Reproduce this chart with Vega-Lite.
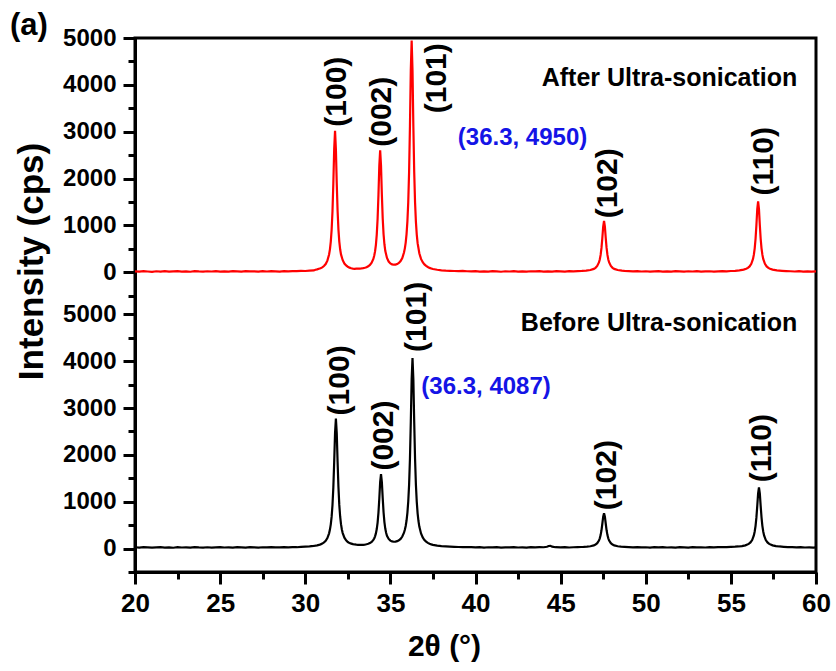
{
"$schema": "https://vega.github.io/schema/vega-lite/v6.json",
"width": 681, "height": 534,
"autosize": {"type": "none"},
"padding": {"left": 135, "top": 38, "right": 20, "bottom": 99},
"title": {"text": "(a)", "anchor": "start", "frame": "group", "dx": -125, "offset": 0, "dy": 40, "fontSize": 31, "fontWeight": "bold", "font": "Liberation Sans", "baseline": "alphabetic", "color": "black"},
"config": {
 "view": {"stroke": "black", "strokeWidth": 3},
 "font": "Liberation Sans",
 "axis": {"domainColor": "black", "domainWidth": 3, "tickColor": "black", "tickWidth": 3, "grid": false, "labelColor": "black", "titleColor": "black", "labelFont": "Liberation Sans", "titleFont": "Liberation Sans", "labelFontWeight": "bold", "titleFontWeight": "bold", "labelFlush": false, "labelOverlap": false, "labelBound": false}
},
"datasets": {
"after": [{"x":20,"y":18},{"x":20.25,"y":12},{"x":20.5,"y":22},{"x":20.75,"y":15},{"x":21,"y":9},{"x":21.25,"y":20},{"x":21.5,"y":14},{"x":21.75,"y":24},{"x":22,"y":11},{"x":22.25,"y":17},{"x":22.5,"y":21},{"x":22.75,"y":13},{"x":23,"y":19},{"x":23.25,"y":10},{"x":23.5,"y":23},{"x":23.75,"y":16},{"x":24,"y":12},{"x":24.25,"y":20},{"x":24.5,"y":15},{"x":24.75,"y":25},{"x":25,"y":14},{"x":25.25,"y":18},{"x":25.5,"y":11},{"x":25.75,"y":22},{"x":26,"y":17},{"x":26.25,"y":13},{"x":26.5,"y":24},{"x":26.75,"y":16},{"x":27,"y":19},{"x":27.25,"y":12},{"x":27.5,"y":21},{"x":27.75,"y":15},{"x":28,"y":23},{"x":28.25,"y":18},{"x":28.5,"y":14},{"x":28.75,"y":25},{"x":29,"y":20},{"x":29.25,"y":24},{"x":29.5,"y":22},{"x":29.75,"y":28},{"x":30,"y":26},{"x":30.25,"y":33},{"x":30.5,"y":38},{"x":30.6,"y":53},{"x":30.7,"y":60},{"x":30.8,"y":73},{"x":30.9,"y":84},{"x":31,"y":103},{"x":31.1,"y":131},{"x":31.2,"y":174},{"x":31.3,"y":247},{"x":31.4,"y":378},{"x":31.45,"y":489},{"x":31.5,"y":654},{"x":31.55,"y":906},{"x":31.6,"y":1302},{"x":31.65,"y":1899},{"x":31.7,"y":2628},{"x":31.75,"y":3020},{"x":31.8,"y":2625},{"x":31.85,"y":1900},{"x":31.9,"y":1305},{"x":31.95,"y":910},{"x":32,"y":655},{"x":32.05,"y":490},{"x":32.1,"y":380},{"x":32.2,"y":256},{"x":32.3,"y":184},{"x":32.4,"y":143},{"x":32.5,"y":117},{"x":32.6,"y":97},{"x":32.7,"y":85},{"x":32.8,"y":77},{"x":32.9,"y":72},{"x":33,"y":77},{"x":33.1,"y":77},{"x":33.2,"y":78},{"x":33.3,"y":81},{"x":33.4,"y":86},{"x":33.5,"y":94},{"x":33.6,"y":106},{"x":33.7,"y":126},{"x":33.8,"y":155},{"x":33.9,"y":202},{"x":34,"y":283},{"x":34.05,"y":350},{"x":34.1,"y":444},{"x":34.15,"y":585},{"x":34.2,"y":802},{"x":34.25,"y":1140},{"x":34.3,"y":1651},{"x":34.35,"y":2273},{"x":34.4,"y":2604},{"x":34.45,"y":2278},{"x":34.5,"y":1657},{"x":34.55,"y":1147},{"x":34.6,"y":810},{"x":34.65,"y":597},{"x":34.7,"y":457},{"x":34.8,"y":304},{"x":34.9,"y":227},{"x":35,"y":188},{"x":35.1,"y":167},{"x":35.2,"y":160},{"x":35.3,"y":162},{"x":35.4,"y":174},{"x":35.5,"y":198},{"x":35.6,"y":238},{"x":35.7,"y":304},{"x":35.8,"y":420},{"x":35.85,"y":509},{"x":35.9,"y":633},{"x":35.95,"y":814},{"x":36,"y":1084},{"x":36.05,"y":1496},{"x":36.1,"y":2145},{"x":36.15,"y":3123},{"x":36.2,"y":4318},{"x":36.25,"y":4948},{"x":36.3,"y":4312},{"x":36.35,"y":3117},{"x":36.4,"y":2138},{"x":36.45,"y":1487},{"x":36.5,"y":1074},{"x":36.55,"y":803},{"x":36.6,"y":620},{"x":36.7,"y":404},{"x":36.8,"y":284},{"x":36.9,"y":213},{"x":37,"y":167},{"x":37.1,"y":135},{"x":37.2,"y":111},{"x":37.3,"y":92},{"x":37.4,"y":80},{"x":37.5,"y":68},{"x":37.75,"y":52},{"x":38,"y":41},{"x":38.25,"y":33},{"x":38.5,"y":30},{"x":38.75,"y":26},{"x":39,"y":24},{"x":39.25,"y":27},{"x":39.5,"y":20},{"x":39.75,"y":18},{"x":40,"y":22},{"x":40.25,"y":14},{"x":40.5,"y":19},{"x":40.75,"y":12},{"x":41,"y":21},{"x":41.25,"y":16},{"x":41.5,"y":10},{"x":41.75,"y":20},{"x":42,"y":15},{"x":42.25,"y":23},{"x":42.5,"y":13},{"x":42.75,"y":18},{"x":43,"y":11},{"x":43.25,"y":20},{"x":43.5,"y":16},{"x":43.75,"y":22},{"x":44,"y":14},{"x":44.25,"y":19},{"x":44.5,"y":12},{"x":44.75,"y":21},{"x":45,"y":17},{"x":45.25,"y":13},{"x":45.5,"y":22},{"x":45.75,"y":18},{"x":46,"y":24},{"x":46.25,"y":27},{"x":46.5,"y":34},{"x":46.75,"y":47},{"x":46.95,"y":71},{"x":47.05,"y":94},{"x":47.15,"y":133},{"x":47.25,"y":208},{"x":47.3,"y":273},{"x":47.35,"y":370},{"x":47.4,"y":518},{"x":47.45,"y":730},{"x":47.5,"y":973},{"x":47.55,"y":1095},{"x":47.6,"y":973},{"x":47.65,"y":730},{"x":47.7,"y":518},{"x":47.75,"y":370},{"x":47.8,"y":273},{"x":47.85,"y":208},{"x":47.95,"y":133},{"x":48.05,"y":94},{"x":48.15,"y":71},{"x":48.35,"y":47},{"x":48.6,"y":34},{"x":48.75,"y":28},{"x":49,"y":24},{"x":49.25,"y":19},{"x":49.5,"y":22},{"x":49.75,"y":15},{"x":50,"y":20},{"x":50.25,"y":13},{"x":50.5,"y":18},{"x":50.75,"y":22},{"x":51,"y":14},{"x":51.25,"y":19},{"x":51.5,"y":11},{"x":51.75,"y":21},{"x":52,"y":16},{"x":52.25,"y":13},{"x":52.5,"y":20},{"x":52.75,"y":15},{"x":53,"y":22},{"x":53.25,"y":12},{"x":53.5,"y":18},{"x":53.75,"y":21},{"x":54,"y":14},{"x":54.25,"y":19},{"x":54.5,"y":23},{"x":54.75,"y":17},{"x":55,"y":26},{"x":55.25,"y":29},{"x":55.5,"y":39},{"x":55.75,"y":55},{"x":55.9,"y":73},{"x":56,"y":92},{"x":56.1,"y":124},{"x":56.2,"y":179},{"x":56.3,"y":284},{"x":56.35,"y":374},{"x":56.4,"y":509},{"x":56.45,"y":714},{"x":56.5,"y":1008},{"x":56.55,"y":1346},{"x":56.6,"y":1515},{"x":56.65,"y":1346},{"x":56.7,"y":1008},{"x":56.75,"y":714},{"x":56.8,"y":509},{"x":56.85,"y":374},{"x":56.9,"y":284},{"x":57,"y":179},{"x":57.1,"y":124},{"x":57.2,"y":92},{"x":57.3,"y":73},{"x":57.45,"y":55},{"x":57.7,"y":39},{"x":58,"y":30},{"x":58.25,"y":24},{"x":58.5,"y":20},{"x":58.75,"y":15},{"x":59,"y":21},{"x":59.25,"y":13},{"x":59.5,"y":18},{"x":59.75,"y":12},{"x":60,"y":17}],
"before": [{"x":20,"y":28},{"x":20.25,"y":22},{"x":20.5,"y":30},{"x":20.75,"y":24},{"x":21,"y":19},{"x":21.25,"y":27},{"x":21.5,"y":31},{"x":21.75,"y":21},{"x":22,"y":26},{"x":22.25,"y":18},{"x":22.5,"y":29},{"x":22.75,"y":23},{"x":23,"y":27},{"x":23.25,"y":20},{"x":23.5,"y":32},{"x":23.75,"y":25},{"x":24,"y":22},{"x":24.25,"y":28},{"x":24.5,"y":19},{"x":24.75,"y":26},{"x":25,"y":30},{"x":25.25,"y":23},{"x":25.5,"y":27},{"x":25.75,"y":21},{"x":26,"y":29},{"x":26.25,"y":24},{"x":26.5,"y":20},{"x":26.75,"y":31},{"x":27,"y":26},{"x":27.25,"y":22},{"x":27.5,"y":28},{"x":27.75,"y":25},{"x":28,"y":33},{"x":28.25,"y":24},{"x":28.5,"y":27},{"x":28.75,"y":30},{"x":29,"y":26},{"x":29.25,"y":31},{"x":29.5,"y":29},{"x":29.75,"y":37},{"x":30,"y":41},{"x":30.25,"y":47},{"x":30.5,"y":57},{"x":30.6,"y":62},{"x":30.7,"y":69},{"x":30.8,"y":78},{"x":30.9,"y":90},{"x":31,"y":107},{"x":31.1,"y":131},{"x":31.2,"y":167},{"x":31.3,"y":225},{"x":31.4,"y":325},{"x":31.45,"y":405},{"x":31.5,"y":517},{"x":31.55,"y":682},{"x":31.6,"y":930},{"x":31.65,"y":1307},{"x":31.7,"y":1846},{"x":31.75,"y":2464},{"x":31.8,"y":2775},{"x":31.85,"y":2466},{"x":31.9,"y":1848},{"x":31.95,"y":1310},{"x":32,"y":932},{"x":32.05,"y":685},{"x":32.1,"y":520},{"x":32.15,"y":408},{"x":32.2,"y":331},{"x":32.3,"y":232},{"x":32.4,"y":175},{"x":32.5,"y":140},{"x":32.6,"y":117},{"x":32.7,"y":106},{"x":32.8,"y":95},{"x":32.9,"y":88},{"x":33,"y":83},{"x":33.1,"y":80},{"x":33.2,"y":78},{"x":33.3,"y":79},{"x":33.4,"y":81},{"x":33.5,"y":86},{"x":33.6,"y":92},{"x":33.7,"y":102},{"x":33.8,"y":117},{"x":33.9,"y":143},{"x":34,"y":185},{"x":34.05,"y":216},{"x":34.1,"y":262},{"x":34.15,"y":324},{"x":34.2,"y":417},{"x":34.25,"y":556},{"x":34.3,"y":768},{"x":34.35,"y":1069},{"x":34.4,"y":1417},{"x":34.45,"y":1592},{"x":34.5,"y":1422},{"x":34.55,"y":1076},{"x":34.6,"y":776},{"x":34.65,"y":565},{"x":34.7,"y":427},{"x":34.75,"y":336},{"x":34.8,"y":274},{"x":34.9,"y":206},{"x":35,"y":170},{"x":35.1,"y":152},{"x":35.2,"y":146},{"x":35.3,"y":148},{"x":35.4,"y":158},{"x":35.5,"y":177},{"x":35.6,"y":207},{"x":35.7,"y":257},{"x":35.8,"y":339},{"x":35.85,"y":402},{"x":35.9,"y":483},{"x":35.95,"y":599},{"x":36,"y":763},{"x":36.05,"y":1004},{"x":36.1,"y":1366},{"x":36.15,"y":1918},{"x":36.2,"y":2707},{"x":36.25,"y":3614},{"x":36.3,"y":4068},{"x":36.35,"y":3612},{"x":36.4,"y":2704},{"x":36.45,"y":1913},{"x":36.5,"y":1360},{"x":36.55,"y":996},{"x":36.6,"y":753},{"x":36.65,"y":588},{"x":36.7,"y":470},{"x":36.8,"y":323},{"x":36.9,"y":237},{"x":37,"y":183},{"x":37.1,"y":148},{"x":37.2,"y":122},{"x":37.3,"y":104},{"x":37.4,"y":90},{"x":37.5,"y":80},{"x":37.75,"y":62},{"x":38,"y":52},{"x":38.25,"y":46},{"x":38.5,"y":42},{"x":38.75,"y":38},{"x":39,"y":34},{"x":39.25,"y":33},{"x":39.5,"y":29},{"x":39.75,"y":30},{"x":40,"y":26},{"x":40.25,"y":31},{"x":40.5,"y":22},{"x":40.75,"y":28},{"x":41,"y":24},{"x":41.25,"y":30},{"x":41.5,"y":21},{"x":41.75,"y":27},{"x":42,"y":25},{"x":42.25,"y":32},{"x":42.5,"y":23},{"x":42.75,"y":27},{"x":43,"y":22},{"x":43.25,"y":29},{"x":43.5,"y":25},{"x":43.75,"y":30},{"x":44,"y":28},{"x":44.2,"y":38},{"x":44.3,"y":55},{"x":44.4,"y":60},{"x":44.5,"y":40},{"x":44.7,"y":29},{"x":45,"y":25},{"x":45.25,"y":31},{"x":45.5,"y":23},{"x":45.75,"y":28},{"x":46,"y":32},{"x":46.2,"y":34},{"x":46.35,"y":36},{"x":46.55,"y":41},{"x":46.75,"y":50},{"x":46.95,"y":68},{"x":47.05,"y":85},{"x":47.15,"y":115},{"x":47.25,"y":171},{"x":47.3,"y":218},{"x":47.35,"y":288},{"x":47.4,"y":390},{"x":47.45,"y":530},{"x":47.5,"y":682},{"x":47.55,"y":755},{"x":47.6,"y":682},{"x":47.65,"y":530},{"x":47.7,"y":390},{"x":47.75,"y":288},{"x":47.8,"y":218},{"x":47.85,"y":171},{"x":47.95,"y":115},{"x":48.05,"y":85},{"x":48.15,"y":68},{"x":48.35,"y":50},{"x":48.55,"y":41},{"x":48.75,"y":36},{"x":49,"y":31},{"x":49.25,"y":27},{"x":49.5,"y":30},{"x":49.75,"y":24},{"x":50,"y":28},{"x":50.25,"y":22},{"x":50.5,"y":29},{"x":50.75,"y":25},{"x":51,"y":31},{"x":51.25,"y":23},{"x":51.5,"y":27},{"x":51.75,"y":21},{"x":52,"y":29},{"x":52.25,"y":26},{"x":52.5,"y":22},{"x":52.75,"y":30},{"x":53,"y":24},{"x":53.25,"y":28},{"x":53.5,"y":23},{"x":53.75,"y":31},{"x":54,"y":26},{"x":54.25,"y":29},{"x":54.5,"y":33},{"x":54.75,"y":30},{"x":55,"y":36},{"x":55.25,"y":40},{"x":55.45,"y":45},{"x":55.65,"y":53},{"x":55.85,"y":69},{"x":56.05,"y":100},{"x":56.15,"y":131},{"x":56.25,"y":182},{"x":56.35,"y":281},{"x":56.4,"y":364},{"x":56.45,"y":486},{"x":56.5,"y":665},{"x":56.55,"y":911},{"x":56.6,"y":1177},{"x":56.65,"y":1305},{"x":56.7,"y":1177},{"x":56.75,"y":911},{"x":56.8,"y":665},{"x":56.85,"y":486},{"x":56.9,"y":364},{"x":56.95,"y":281},{"x":57.05,"y":182},{"x":57.15,"y":131},{"x":57.25,"y":100},{"x":57.45,"y":69},{"x":57.65,"y":53},{"x":57.85,"y":45},{"x":58.1,"y":38},{"x":58.35,"y":33},{"x":58.6,"y":29},{"x":58.85,"y":26},{"x":59.1,"y":30},{"x":59.35,"y":23},{"x":59.6,"y":27},{"x":59.85,"y":22},{"x":60,"y":26}],
"hkl_after": [{"x":31.84,"y":3106,"t":"(100)"},{"x":34.52,"y":2678,"t":"(002)"},{"x":37.75,"y":3393,"t":"(101)"},{"x":47.78,"y":1150,"t":"(102)"},{"x":56.92,"y":1640,"t":"(110)"}],
"hkl_before": [{"x":32.03,"y":2843,"t":"(100)"},{"x":34.62,"y":1665,"t":"(002)"},{"x":36.58,"y":4199,"t":"(101)"},{"x":47.75,"y":820,"t":"(102)"},{"x":56.85,"y":1414,"t":"(110)"}],
"name_after": [{"x":58.9,"y":3978,"t":"After Ultra-sonication"}],
"name_before": [{"x":58.9,"y":4642,"t":"Before Ultra-sonication"}],
"note_after": [{"x":38.96,"y":2714,"t":"(36.3, 4950)"}],
"note_before": [{"x":36.82,"y":3293,"t":"(36.3, 4087)"}]
},
"encoding": {
 "x": {"field": "x", "type": "quantitative", "scale": {"domain": [20, 60], "nice": false, "zero": false},
  "axis": {"values": [20,22.5,25,27.5,30,32.5,35,37.5,40,42.5,45,47.5,50,52.5,55,57.5,60],
   "labelExpr": "datum.value % 5 === 0 ? format(datum.value, 'd') : ''",
   "tickSize": {"condition": {"test": "datum.value % 5 !== 0", "value": 7}, "value": 12},
   "labelFontSize": 26, "labelPadding": 6,
   "title": "2θ (°)", "titleFontSize": 30, "titleX": 309, "titleY": 83, "titleAlign": "center", "titleBaseline": "alphabetic"}}
},
"layer": [
 {"data": {"name": "before"}, "mark": {"type": "line", "color": "black", "strokeWidth": 2.2},
  "encoding": {"y": {"field": "y", "type": "quantitative", "scale": {"domain": [-500, 10900], "nice": false, "zero": false},
   "axis": {"values": [-500,0,500,1000,1500,2000,2500,3000,3500,4000,4500,5000,5400,5900,6400,6900,7400,7900,8400,8900,9400,9900,10400,10900],
    "labelExpr": "(datum.value % 1000 !== 0 && (datum.value < 5900 || (datum.value - 5900) % 1000 !== 0)) ? '' : format(datum.value >= 5900 ? datum.value - 5900 : datum.value, 'd')",
    "tickSize": {"condition": {"test": "datum.value % 1000 !== 0 && (datum.value < 5900 || (datum.value - 5900) % 1000 !== 0)", "value": 7}, "value": 12},
    "labelFontSize": 24, "labelPadding": 7,
    "title": "Intensity (cps)", "titleFontSize": 35, "titleAngle": 270, "titleX": -93, "titleY": 223, "titleAlign": "center", "titleBaseline": "alphabetic"}}}},
 {"data": {"name": "hkl_before"}, "mark": {"type": "text", "angle": 270, "align": "left", "baseline": "middle", "fontSize": 30, "fontWeight": "bold", "font": "Liberation Sans", "color": "black"},
  "encoding": {"y": {"field": "y", "type": "quantitative", "scale": {"domain": [-500, 10900], "nice": false, "zero": false}, "axis": null}, "text": {"field": "t"}}},
 {"data": {"name": "name_before"}, "mark": {"type": "text", "align": "right", "baseline": "alphabetic", "fontSize": 25, "fontWeight": "bold", "font": "Liberation Sans", "color": "black"},
  "encoding": {"y": {"field": "y", "type": "quantitative", "scale": {"domain": [-500, 10900], "nice": false, "zero": false}, "axis": null}, "text": {"field": "t"}}},
 {"data": {"name": "note_before"}, "mark": {"type": "text", "align": "left", "baseline": "alphabetic", "fontSize": 24, "fontWeight": "bold", "font": "Liberation Sans", "color": "#1414e6"},
  "encoding": {"y": {"field": "y", "type": "quantitative", "scale": {"domain": [-500, 10900], "nice": false, "zero": false}, "axis": null}, "text": {"field": "t"}}},
 {"data": {"name": "after"}, "mark": {"type": "line", "color": "#ff0000", "strokeWidth": 2.2},
  "encoding": {"y": {"field": "y", "type": "quantitative", "scale": {"domain": [-6400, 5000], "nice": false, "zero": false}, "axis": null}}},
 {"data": {"name": "hkl_after"}, "mark": {"type": "text", "angle": 270, "align": "left", "baseline": "middle", "fontSize": 30, "fontWeight": "bold", "font": "Liberation Sans", "color": "black"},
  "encoding": {"y": {"field": "y", "type": "quantitative", "scale": {"domain": [-6400, 5000], "nice": false, "zero": false}, "axis": null}, "text": {"field": "t"}}},
 {"data": {"name": "name_after"}, "mark": {"type": "text", "align": "right", "baseline": "alphabetic", "fontSize": 25, "fontWeight": "bold", "font": "Liberation Sans", "color": "black"},
  "encoding": {"y": {"field": "y", "type": "quantitative", "scale": {"domain": [-6400, 5000], "nice": false, "zero": false}, "axis": null}, "text": {"field": "t"}}},
 {"data": {"name": "note_after"}, "mark": {"type": "text", "align": "left", "baseline": "alphabetic", "fontSize": 24, "fontWeight": "bold", "font": "Liberation Sans", "color": "#1414e6"},
  "encoding": {"y": {"field": "y", "type": "quantitative", "scale": {"domain": [-6400, 5000], "nice": false, "zero": false}, "axis": null}, "text": {"field": "t"}}}
],
"resolve": {"scale": {"y": "independent"}}
}
